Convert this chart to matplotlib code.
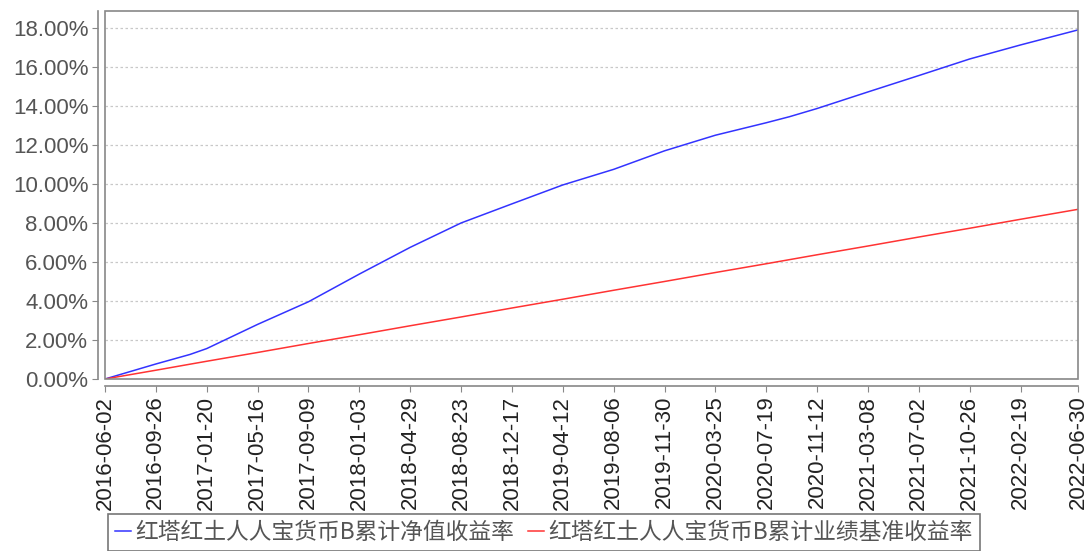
import pandas as pd
import matplotlib
matplotlib.use("Agg")
import matplotlib.pyplot as plt
import matplotlib.dates as mdates
from matplotlib.patches import Rectangle
from matplotlib.ticker import FuncFormatter

# data (values in %)
dates = ["2016-06-02", "2016-09-26", "2016-12-13", "2017-01-20", "2017-05-16",
         "2017-09-09", "2018-01-03", "2018-04-29", "2018-08-23", "2018-12-17",
         "2019-04-12", "2019-08-06", "2019-11-30", "2020-03-25", "2020-07-19",
         "2020-09-10", "2020-11-12", "2021-03-08", "2021-07-02", "2021-10-26",
         "2022-02-19", "2022-06-30"]
nav_return = [0.00, 0.77, 1.26, 1.56, 2.80,
              3.96, 5.38, 6.75, 8.00, 8.98,
              9.95, 10.75, 11.70, 12.50, 13.14,
              13.45, 13.87, 14.72, 15.56, 16.41,
              17.13, 17.90]
bench_return = [0.00, 0.45, 0.76, 0.91, 1.36,
                1.82, 2.27, 2.73, 3.18, 3.64,
                4.09, 4.55, 5.00, 5.46, 5.91,
                6.12, 6.37, 6.82, 7.28, 7.73,
                8.19, 8.70]
tick_dates = ["2016-06-02", "2016-09-26", "2017-01-20", "2017-05-16", "2017-09-09",
              "2018-01-03", "2018-04-29", "2018-08-23", "2018-12-17", "2019-04-12",
              "2019-08-06", "2019-11-30", "2020-03-25", "2020-07-19", "2020-11-12",
              "2021-03-08", "2021-07-02", "2021-10-26", "2022-02-19", "2022-06-30"]
y_ticks = [0, 2, 4, 6, 8, 10, 12, 14, 16, 18]
labels = ["红塔红土人人宝货币B累计净值收益率", "红塔红土人人宝货币B累计业绩基准收益率"]

x = pd.to_datetime(dates)
xt = pd.to_datetime(tick_dates)

W, H = 1085, 551
fig = plt.figure(figsize=(W / 100, H / 100), dpi=100)
ax = fig.add_axes([105 / W, 1 - 379 / H, (1078 - 105) / W, (379 - 11) / H])

ax.plot(x, nav_return, color="#3333ff", lw=1.1, label=labels[0])
ax.plot(x, bench_return, color="#ff3333", lw=1.1, label=labels[1])

ax.set_xlim(x[0], x[-1])
ax.set_ylim(0, 18.87)

ax.set_yticks(y_ticks)
ax.yaxis.set_major_formatter(FuncFormatter(lambda v, p: f"{v:.2f}%"))
ax.set_xticks(xt)
ax.xaxis.set_major_formatter(mdates.DateFormatter("%Y-%m-%d"))

ax.grid(axis="y", color="#c8c8c8", linestyle=(0, (2, 2)), linewidth=0.9)
ax.grid(axis="x", visible=False)

# axis lines offset from the plot area
for s in ["top", "right"]:
    ax.spines[s].set_visible(False)
for s in ["left", "bottom"]:
    ax.spines[s].set_position(("outward", 5))
    ax.spines[s].set_color("#888888")
    ax.spines[s].set_linewidth(1.2)
ax.add_patch(Rectangle((0, 0), 1, 1, transform=ax.transAxes, fill=False,
                       edgecolor="#888888", linewidth=1.2, clip_on=False, zorder=5))

ax.tick_params(axis="y", direction="out", length=4, color="#888888",
               labelsize=16, labelcolor="#555555", pad=3)
ax.tick_params(axis="x", direction="out", length=4, color="#888888",
               labelsize=16, labelcolor="#222222", pad=3, labelrotation=90)
for t in ax.get_yticklabels() + ax.get_xticklabels():
    t.set_family(["Liberation Sans", "DejaVu Sans"])

leg = fig.legend(loc="upper left", bbox_to_anchor=(108 / W, 1 - 514 / H),
                 ncol=2, frameon=True, fancybox=False, borderpad=0.3,
                 handlelength=0.7, handletextpad=0.2, columnspacing=0.6,
                 borderaxespad=0,
                 prop={"family": ["Noto Sans CJK SC", "DejaVu Sans"], "size": 16.4})
leg.get_frame().set_edgecolor("#555555")
leg.get_frame().set_linewidth(1.2)
for t in leg.get_texts():
    t.set_color("#555555")

fig.savefig("out.png", dpi=100)
